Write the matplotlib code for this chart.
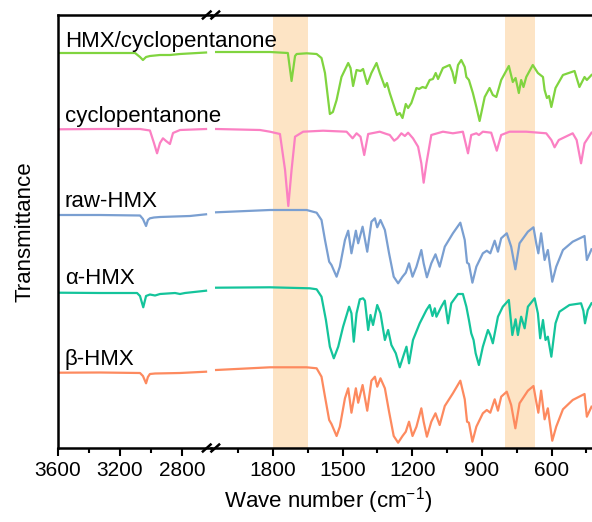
import matplotlib.pyplot as plt

plt.rcParams['font.family'] = ['Liberation Sans', 'DejaVu Sans']
plt.rcParams['mathtext.fontset'] = 'custom'
plt.rcParams['mathtext.rm'] = 'Liberation Sans'

# FTIR spectra (transmittance in stacked a.u.)
# high-wavenumber part (3600-2620 cm-1) and fingerprint part (2070-400 cm-1)

hmx_cp_hi_wn = [3600, 3329, 3103, 3071, 3052, 3032, 3007, 2942, 2878, 2813, 2645]
hmx_cp_hi_t = [395, 395, 395, 391, 388, 391, 392, 393, 393, 394, 395.5]
hmx_cp_lo_wn = [2045, 1813, 1736, 1720, 1705, 1698, 1655, 1612, 1591, 1576, 1555, 1542, 1526, 1505,
                1476, 1466, 1455, 1440, 1423, 1412, 1394, 1376, 1354, 1340, 1318, 1309, 1297, 1266,
                1254, 1242, 1228, 1218, 1204, 1182, 1171, 1156, 1142, 1125, 1111, 1099, 1089, 1068,
                1039, 1027, 1016, 1003, 989, 974, 967, 956, 939, 924, 910, 888, 867, 853, 838, 817,
                784, 767, 755, 741, 731, 721, 709, 681, 659, 637, 630, 620, 611, 601, 583, 551, 501,
                480, 458, 448, 428]
hmx_cp_lo_t = [396, 396, 395, 367, 392, 394, 394.7, 394, 390, 375, 334, 336, 348, 371,
               385, 380, 362, 378, 377, 379, 364, 375, 385, 375, 361, 365, 355, 333,
               335, 330, 344, 340, 345, 360, 359, 361, 360, 368, 369, 375, 369, 380,
               383, 376, 365, 383, 388, 381, 371, 368, 355, 341, 327, 351, 360, 353, 351, 368,
               382, 366, 370, 355, 368, 361, 371, 383, 375, 371, 358, 350, 352, 341, 360, 373, 377,
               361, 371, 368, 373]

cp_hi_wn = [3600, 3329, 3071, 3007, 2981, 2961, 2942, 2923, 2903, 2878, 2858, 2813, 2645]
cp_hi_t = [318.7, 319, 319, 317.5, 305, 294.7, 305, 309.7, 307, 304, 315, 318, 319]
cp_lo_wn = [2045, 1856, 1813, 1770, 1748, 1734, 1720, 1705, 1670, 1584, 1483, 1457, 1440, 1423,
            1407, 1390, 1340, 1311, 1297, 1278, 1264, 1247, 1232, 1218, 1197, 1175, 1161, 1151,
            1139, 1118, 1068, 1025, 982, 960, 946, 924, 913, 896, 860, 836, 817, 781, 709, 623,
            601, 587, 569, 509, 492, 473, 458, 428]
cp_lo_t = [319, 318, 316.3, 314, 278, 242, 278, 311.3, 316.3, 317.3, 316.3, 309.7, 314.7, 311.3,
           293, 314, 316.3, 314, 313, 307.3, 309.7, 314.7, 312, 315.3, 309.7, 301.3, 284.7, 265.3,
           284.7, 313, 316.3, 314.7, 316.3, 294.7, 313, 314.7, 313, 316.3, 315.3, 297.3, 313, 316.3,
           316.3, 314.7, 308, 300.7, 308, 314.7, 308, 284.7, 304.7, 315.3]

raw_hi_wn = [3600, 3329, 3071, 3052, 3032, 3020, 3007, 2981, 2942, 2749, 2645]
raw_hi_t = [233, 233, 232.5, 229, 222, 228, 229.7, 230.5, 231, 232, 233.7]
raw_lo_wn = [2045, 1813, 1655, 1612, 1591, 1576, 1558, 1548, 1526, 1512, 1490, 1476, 1462, 1443,
             1433, 1414, 1394, 1376, 1361, 1351, 1337, 1318, 1300, 1280, 1261, 1242, 1228, 1214,
             1199, 1182, 1161, 1151, 1137, 1118, 1100, 1082, 1060, 1025, 993, 974, 964, 956, 941,
             924, 896, 879, 864, 845, 831, 817, 793, 774, 756, 738, 702, 678, 666, 657, 645, 630,
             616, 597, 580, 551, 509, 458, 448, 428]
raw_lo_t = [235.7, 238, 238, 235.3, 228, 208, 186.3, 183, 171.3, 181.3, 208, 217.3, 194.7, 217.3,
            204.7, 221.3, 196.3, 226.3, 229.7, 220.7, 228, 218, 194.7, 171.3, 164.7, 171.3, 175.3, 184.7,
            171.3, 181.3, 198, 184.7, 170.7, 184.7, 193.7, 181.3, 201.3, 214.7, 225.3, 208, 185.3, 184, 165.3,
            181.3, 194.7, 197.3, 194.7, 207.3, 196.3, 209.7, 214.7, 201.3, 178.7, 204.7, 216.3, 220.7, 204.7,
            194.7, 214.7, 188, 198, 166.3, 181.3, 198, 206.3, 212, 188, 198.7]

alpha_hi_wn = [3600, 3329, 3090, 3071, 3050, 3032, 3007, 2974, 2942, 2845, 2813, 2781, 2645]
alpha_hi_t = [155.3, 155, 155, 152, 140.7, 152, 153.5, 152.5, 154, 155, 154, 155, 157.3]
alpha_lo_wn = [2045, 1813, 1641, 1612, 1591, 1572, 1555, 1538, 1519, 1498, 1472, 1462, 1452, 1440,
               1426, 1412, 1404, 1390, 1380, 1369, 1351, 1337, 1318, 1304, 1290, 1271, 1254, 1237,
               1225, 1214, 1197, 1168, 1139, 1125, 1113, 1103, 1096, 1075, 1060, 1046, 1032, 1003,
               982, 967, 956, 946, 936, 927, 913, 896, 874, 864, 853, 831, 810, 784, 769, 755, 745,
               731, 716, 702, 673, 659, 649, 637, 626, 616, 601, 583, 566, 523, 473, 463, 456, 444, 428]
alpha_lo_t = [160.3, 160.7, 159.7, 158.7, 151.3, 128, 101.3, 89.7, 101.3, 121.3, 141.3, 134.7, 106.3, 134.7,
              148.7, 149.7, 147.3, 118, 133, 123, 143, 134.7, 108, 118, 103, 94.7, 80.7, 93,
              101.3, 84.7, 108, 124.7, 138, 143, 132, 139.7, 131.3, 141.3, 147.3, 124.7, 144.7, 154,
              154, 141.3, 128, 114.7, 108, 94.7, 83, 101.3, 118, 113, 104.7, 131.3, 141.3, 148, 113, 128.7, 113,
              131.3, 119.7, 141.3, 149.7, 134.7, 109.7, 128, 108, 111.3, 91.3, 124.7, 136.3, 143, 144.7, 137.3,
              124.7, 138, 144.7]

beta_hi_wn = [3600, 3329, 3071, 3052, 3032, 3020, 3007, 2974, 2813, 2645]
beta_hi_t = [75.3, 75.5, 75, 72, 64.7, 71, 74, 74.5, 75, 76.3]
beta_lo_wn = [2045, 1813, 1655, 1612, 1591, 1576, 1558, 1548, 1526, 1512, 1490, 1476, 1462, 1443,
              1433, 1414, 1394, 1376, 1361, 1351, 1337, 1318, 1300, 1280, 1261, 1242, 1228, 1214,
              1199, 1182, 1161, 1151, 1137, 1118, 1100, 1082, 1060, 1025, 993, 974, 964, 956, 941,
              924, 896, 879, 864, 845, 831, 817, 793, 774, 756, 738, 702, 678, 666, 657, 645, 630,
              616, 597, 580, 551, 509, 458, 448, 428]
beta_lo_t = [78, 80.7, 80.7, 79.7, 71.3, 51.3, 28, 24, 12, 21.3, 49.7, 59.7, 35.3, 59.7,
             45.3, 63, 37.3, 67.3, 71.3, 61.3, 69.7, 59.7, 36.3, 12, 5.3, 12, 16.3, 26.3,
             12, 21.3, 39.7, 26.3, 11.3, 26.3, 34.7, 23, 42, 54.7, 67.3, 48.7, 26.3, 25.3, 6.3,
             21.3, 34.7, 38, 35.3, 48.7, 37.3, 51.3, 56.3, 43, 19.7, 44.7, 57.3, 62, 46.3,
             35.3, 57.3, 28.7, 39.7, 7.3, 21.3, 38.7, 48, 54, 31.3, 41.3]

names = ['HMX/cyclopentanone', 'cyclopentanone', 'raw-HMX', 'α-HMX', 'β-HMX']
colors = ['#80d43f', '#fb80c3', '#7a9fd1', '#14c49b', '#fd8a5f']
label_y = [401, 326, 241, 164, 83]
bands = [(1800, 1650), (800, 672)]

hi_wn = [hmx_cp_hi_wn, cp_hi_wn, raw_hi_wn, alpha_hi_wn, beta_hi_wn]
hi_t = [hmx_cp_hi_t, cp_hi_t, raw_hi_t, alpha_hi_t, beta_hi_t]
lo_wn = [hmx_cp_lo_wn, cp_lo_wn, raw_lo_wn, alpha_lo_wn, beta_lo_wn]
lo_t = [hmx_cp_lo_t, cp_lo_t, raw_lo_t, alpha_lo_t, beta_lo_t]

fig = plt.figure(figsize=(5.92, 5.22), dpi=100)
W, H = 592, 522
ax1 = fig.add_axes([58 / W, 74 / H, 153 / W, 433 / H])
ax2 = fig.add_axes([211 / W, 74 / H, 387 / W, 433 / H])
# left panel on top (transparent) so its labels sit over the shaded band
ax1.set_zorder(2)
ax1.set_facecolor('none')

for i in range(len(names)):
    ax1.plot(hi_wn[i], hi_t[i], color=colors[i], lw=1.6)
    ax2.plot(lo_wn[i], lo_t[i], color=colors[i], lw=1.6)
    ax1.text(3555, label_y[i], names[i], fontsize=16, va='baseline', ha='left', zorder=5)

for lo, hi in bands:
    ax2.axvspan(hi, lo, color='#fde4c5', lw=0, zorder=0)

ax1.set_xlim(3600, 2613)
ax2.set_xlim(2067, 400)
for ax in (ax1, ax2):
    ax.set_ylim(0, 433)
    ax.set_yticks([])
    for s in ax.spines.values():
        s.set_linewidth(1.8)
    ax.tick_params(axis='x', which='major', direction='out', length=6, width=1.5, labelsize=15, pad=3)
    ax.tick_params(axis='x', which='minor', direction='out', length=3.5, width=1.5)

ax1.set_xticks([3600, 3200, 2800])
ax1.set_xticks([3400, 3000], minor=True)
ax2.set_xticks([1800, 1500, 1200, 900, 600])
ax2.set_xticks([1950, 1650, 1350, 1050, 750, 450], minor=True)

ax1.spines['right'].set_visible(False)
ax2.spines['left'].set_visible(False)
ax2.spines['right'].set_visible(False)

# break marks
d = 0.010
for y in (0, 1):
    for dx in (-0.011, 0.011):
        ax2.plot([dx - d, dx + d], [y - 0.008, y + 0.008], transform=ax2.transAxes,
                 color='black', lw=1.8, clip_on=False)

ax1.set_ylabel('Transmittance', fontsize=16, labelpad=16)
fig.text(328 / W, 6 / H, 'Wave number (cm$^{\\mathrm{-1}}$)', fontsize=16, ha='center', va='bottom')

plt.savefig('out.png', dpi=100)
